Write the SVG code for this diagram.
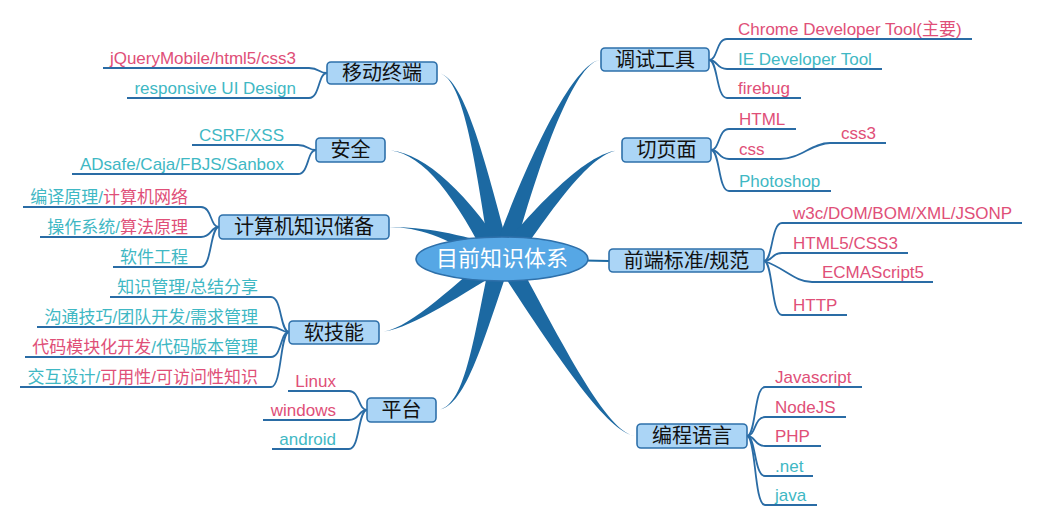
<svg xmlns="http://www.w3.org/2000/svg" width="1043" height="526" viewBox="0 0 1043 526">
<style>
text{font-family:"Liberation Sans","Noto Sans CJK SC",sans-serif;}
.br{fill:#1c69a2;stroke:none;}
.ln{fill:none;stroke:#2a6ca5;stroke-width:1.8;}
.topic rect{fill:#abd5f6;stroke:#2e70aa;stroke-width:1.6;}
.topic text{font-size:20px;fill:#111;text-anchor:middle;}
.lf{font-size:17px;}
.l{text-anchor:end;}
.p{fill:#e04f78;}
.t{fill:#3fb8c4;}
</style>
<rect width="1043" height="526" fill="#fff"/>
<g id="connectors">
<path class="br" d="M437,73 C463,73 475.1,161 490.2,257.1 L509.8,252.9 C484.9,159 463,73 437,73Z"/>
<path class="br" d="M601,60 C578,60 535.2,138.5 493.5,251.9 L512.5,258.1 C544.8,141.5 578,60 601,60Z"/>
<path class="br" d="M385,150 C418,150 450.7,187.5 488.4,262 L505.6,252 C459.3,182.5 418,150 385,150Z"/>
<path class="br" d="M622,150 C598,150 561,177 499,251 L515,263 C569,183 598,150 622,150Z"/>
<path class="br" d="M389,227 C425,227 453.1,242.6 496.1,266.2 L503.9,247.8 C456.9,233.4 425,227 389,227Z"/>
<path class="br" d="M379,332 C405,332 452.9,300.1 502.9,270.1 L491.1,253.9 C447.1,291.9 405,332 379,332Z"/>
<path class="br" d="M436,410 C465,410 482.8,341.4 509.6,264.7 L490.4,259.3 C473.2,338.6 465,410 436,410Z"/>
<path class="br" d="M637,436 C610,436 569.3,357.5 515.6,256.9 L498.4,267.1 C560.7,362.5 610,436 637,436Z"/>
<path class="ln" d="M609,261 L560,260" style="stroke:#1c69a2;stroke-width:2.2"/>
<path class="ln" d="M327,73 C318,73 320,68 309,68 L103,68"/>
<path class="ln" d="M327,73 C318,73 320,98 309,98 L127,98"/>
<path class="ln" d="M316,150 C307,150 309,145 298,145 L192,145"/>
<path class="ln" d="M316,150 C307,150 309,174 298,174 L72,174"/>
<path class="ln" d="M219,227 C210,227 212,207 201,207 L23,207"/>
<path class="ln" d="M219,227 C210,227 212,237 201,237 L40,237"/>
<path class="ln" d="M219,227 C210,227 212,267 201,267 L113,267"/>
<path class="ln" d="M289,332 C280,332 282,297 271,297 L110,297"/>
<path class="ln" d="M289,332 C280,332 282,327 271,327 L37,327"/>
<path class="ln" d="M289,332 C280,332 282,357 271,357 L25,357"/>
<path class="ln" d="M289,332 C280,332 282,387 271,387 L20,387"/>
<path class="ln" d="M367,410 C358,410 360,391 349,391 L288,391"/>
<path class="ln" d="M367,410 C358,410 360,420 349,420 L263,420"/>
<path class="ln" d="M367,410 C358,410 360,449 349,449 L272,449"/>
<path class="ln" d="M709,60 C718,60 716,39 727,39 L972,39"/>
<path class="ln" d="M709,60 C718,60 716,69 727,69 L882,69"/>
<path class="ln" d="M709,60 C718,60 716,98 727,98 L801,98"/>
<path class="ln" d="M711,150 C720,150 718,129 729,129 L796,129"/>
<path class="ln" d="M711,150 C720,150 718,159 729,159 L780,159 C800,159 812,143 830,143 L886,143"/>
<path class="ln" d="M711,150 C720,150 718,191 729,191 L831,191"/>
<path class="ln" d="M764,261 C773,261 771,223 782,223 L1022,223"/>
<path class="ln" d="M764,261 C773,261 771,253 782,253 L908,253"/>
<path class="ln" d="M764,261 C785,268 795,282 812,282 L933,282"/>
<path class="ln" d="M764,261 C773,261 771,315 782,315 L847,315"/>
<path class="ln" d="M747,436 C756,436 754,387 765,387 L862,387"/>
<path class="ln" d="M747,436 C756,436 754,417 765,417 L846,417"/>
<path class="ln" d="M747,436 C756,436 754,446 765,446 L821,446"/>
<path class="ln" d="M747,436 C756,436 754,476 765,476 L813,476"/>
<path class="ln" d="M747,436 C756,436 754,505 765,505 L817,505"/>
</g>
<g id="center">
<ellipse cx="502" cy="259" rx="86" ry="22" fill="#56a7e5" stroke="#2e70aa" stroke-width="1.6"/>
<text x="502" y="266" font-size="22" fill="#fff" text-anchor="middle">目前知识体系</text>
</g>
<g id="t-mobile" class="topic"><rect x="327" y="62" width="110" height="22" rx="4"/><text x="382" y="80">移动终端</text></g>
<g id="t-security" class="topic"><rect x="316" y="138" width="69" height="24" rx="4"/><text x="350.5" y="157">安全</text></g>
<g id="t-cs" class="topic"><rect x="219" y="215" width="170" height="24" rx="4"/><text x="304" y="234">计算机知识储备</text></g>
<g id="t-soft" class="topic"><rect x="289" y="321" width="90" height="23" rx="4"/><text x="334" y="339.5">软技能</text></g>
<g id="t-platform" class="topic"><rect x="367" y="398" width="69" height="24" rx="4"/><text x="401.5" y="417">平台</text></g>
<g id="t-debug" class="topic"><rect x="601" y="48" width="108" height="23" rx="4"/><text x="655" y="66.5">调试工具</text></g>
<g id="t-page" class="topic"><rect x="622" y="138" width="89" height="24" rx="4"/><text x="666.5" y="157">切页面</text></g>
<g id="t-std" class="topic"><rect x="609" y="249" width="155" height="23" rx="4"/><text x="686.5" y="267.5">前端标准/规范</text></g>
<g id="t-lang" class="topic"><rect x="637" y="424" width="110" height="24" rx="4"/><text x="692" y="443">编程语言</text></g>
<g id="leaves-left" class="lf">
<g id="l-jq"><text class="lf l p" x="296" y="64">jQueryMobile/html5/css3</text></g>
<g id="l-resp"><text class="lf l t" x="296" y="94">responsive UI Design</text></g>
<g id="l-csrf"><text class="lf l t" x="284" y="141">CSRF/XSS</text></g>
<g id="l-adsafe"><text class="lf l t" x="284" y="170">ADsafe/Caja/FBJS/Sanbox</text></g>
<g id="l-compile"><text class="lf l" x="188" y="203"><tspan class="t">编译原理/</tspan><tspan class="p">计算机网络</tspan></text></g>
<g id="l-os"><text class="lf l" x="188" y="233"><tspan class="t">操作系统/</tspan><tspan class="p">算法原理</tspan></text></g>
<g id="l-se"><text class="lf l t" x="188" y="263">软件工程</text></g>
<g id="l-km"><text class="lf l t" x="258" y="293">知识管理/总结分享</text></g>
<g id="l-comm"><text class="lf l t" x="258" y="323">沟通技巧/团队开发/需求管理</text></g>
<g id="l-mod"><text class="lf l" x="258" y="353"><tspan class="p">代码模块化开发</tspan><tspan class="t">/代码版本管理</tspan></text></g>
<g id="l-ux"><text class="lf l" x="258" y="383"><tspan class="t">交互设计/</tspan><tspan class="p">可用性/可访问性知识</tspan></text></g>
<g id="l-linux"><text class="lf l p" x="336" y="387">Linux</text></g>
<g id="l-win"><text class="lf l p" x="336" y="416">windows</text></g>
<g id="l-android"><text class="lf l t" x="336" y="445">android</text></g>
</g>
<g id="leaves-right" class="lf">
<g id="r-chrome"><text class="lf p" x="738" y="35">Chrome Developer Tool(主要)</text></g>
<g id="r-ie"><text class="lf t" x="738" y="65">IE Developer Tool</text></g>
<g id="r-firebug"><text class="lf p" x="738" y="94">firebug</text></g>
<g id="r-html"><text class="lf p" x="739" y="125">HTML</text></g>
<g id="r-css"><text class="lf p" x="739" y="155">css</text></g>
<g id="r-css3"><text class="lf p" x="841" y="139">css3</text></g>
<g id="r-ps"><text class="lf t" x="739" y="187">Photoshop</text></g>
<g id="r-w3c"><text class="lf p" x="793" y="219">w3c/DOM/BOM/XML/JSONP</text></g>
<g id="r-html5"><text class="lf p" x="793" y="249">HTML5/CSS3</text></g>
<g id="r-ecma"><text class="lf p" x="822" y="278">ECMAScript5</text></g>
<g id="r-http"><text class="lf p" x="793" y="311">HTTP</text></g>
<g id="r-js"><text class="lf p" x="775" y="383">Javascript</text></g>
<g id="r-node"><text class="lf p" x="775" y="413">NodeJS</text></g>
<g id="r-php"><text class="lf p" x="775" y="442">PHP</text></g>
<g id="r-net"><text class="lf t" x="775" y="472">.net</text></g>
<g id="r-java"><text class="lf t" x="775" y="501">java</text></g>
</g>
</svg>
